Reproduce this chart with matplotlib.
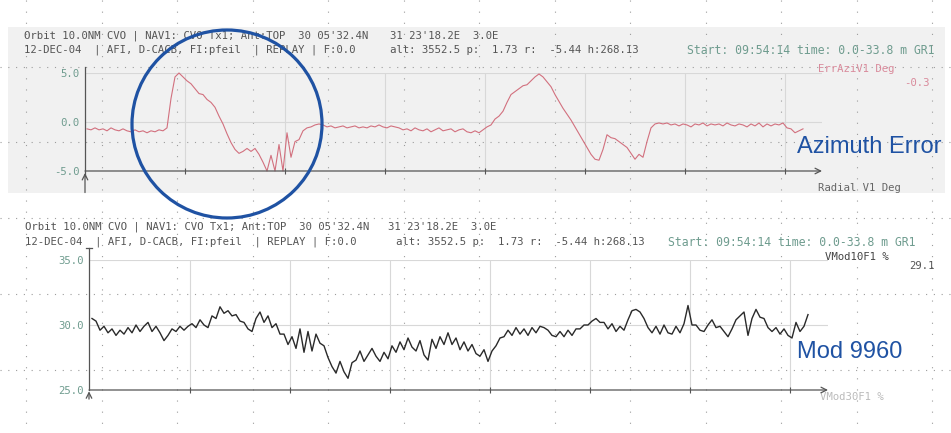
import matplotlib
matplotlib.use("Agg")
import matplotlib.pyplot as plt
import numpy as np
from matplotlib.patches import Ellipse, Rectangle

# ErrAziV1 in degrees, evenly sampled over the run
azi_err = [
    -0.7, -0.8, -0.6, -0.8, -0.7, -0.9, -0.6, -0.8, -0.9, -0.7, -0.9, -1.0,
    -0.8, -1.0, -0.9, -1.1, -0.9, -1.0, -0.8, -0.9, -0.6, 2.4, 4.6, 5.0,
    4.6, 4.2, 3.9, 3.4, 2.9, 2.8, 2.3, 2.0, 1.5, 0.6, -0.2, -1.2,
    -2.1, -2.8, -3.2, -3.0, -2.7, -3.0, -2.7, -3.3, -4.1, -5.0, -3.4, -5.0,
    -2.3, -5.0, -1.1, -3.6, -2.0, -1.8, -0.9, -0.6, -0.5, -0.3, -0.2, -0.3,
    -0.5, -0.4, -0.6, -0.5, -0.4, -0.6, -0.5, -0.4, -0.6, -0.5, -0.6, -0.4,
    -0.5, -0.3, -0.5, -0.6, -0.4, -0.5, -0.6, -0.8, -0.7, -0.9, -0.6, -0.8,
    -0.9, -0.7, -1.0, -0.8, -0.6, -0.9, -0.8, -0.7, -1.0, -0.8, -0.7, -1.0,
    -1.1, -0.9, -1.1, -0.8, -0.5, -0.3, 0.3, 0.6, 1.1, 2.0, 2.8, 3.1,
    3.4, 3.7, 3.8, 4.2, 4.6, 4.9, 4.6, 4.1, 3.6, 2.8, 2.1, 1.4,
    0.8, 0.2, -0.5, -1.2, -1.9, -2.6, -3.3, -3.8, -3.9, -2.8, -1.3, -1.6,
    -1.7, -2.0, -2.3, -2.6, -3.2, -3.8, -3.3, -3.6, -2.0, -0.6, -0.2, -0.1,
    -0.2, -0.1, -0.3, -0.2, -0.4, -0.2, -0.3, -0.5, -0.2, -0.3, -0.1, -0.4,
    -0.2, -0.3, -0.2, -0.4, -0.1, -0.3, -0.4, -0.2, -0.3, -0.5, -0.2, -0.4,
    -0.1, -0.5, -0.2, -0.4, -0.2, -0.3, -0.1, -0.6, -0.7, -1.1, -0.9, -0.7,
]

# VMod10F1 in percent, same run
mod_pct = [
    30.5, 30.3, 29.6, 29.9, 29.4, 29.7, 29.2, 29.6, 29.3, 29.8, 29.4, 30.0,
    29.5, 29.9, 30.2, 29.5, 29.9, 29.4, 28.8, 29.2, 29.7, 29.5, 29.9, 29.6,
    29.9, 30.1, 29.8, 30.4, 30.0, 29.8, 30.7, 30.5, 31.4, 30.9, 31.1, 30.7,
    30.8, 30.3, 30.2, 29.7, 29.5, 30.5, 31.0, 30.2, 30.7, 29.8, 30.1, 29.3,
    29.3, 28.5, 29.1, 28.2, 29.7, 27.9, 29.5, 28.0, 29.3, 28.6, 28.4, 27.5,
    26.8, 26.3, 27.2, 26.4, 25.9, 27.1, 27.3, 28.0, 27.2, 27.7, 28.2, 27.6,
    27.2, 27.9, 27.4, 28.4, 27.9, 28.7, 28.1, 29.0, 28.3, 28.0, 28.8, 27.7,
    27.3, 28.9, 28.2, 29.1, 28.5, 29.4, 28.5, 29.0, 28.1, 28.7, 28.0, 28.5,
    27.8, 27.6, 28.1, 27.2, 28.0, 28.4, 29.0, 29.1, 29.6, 29.2, 29.8, 29.3,
    29.7, 29.2, 29.8, 29.4, 29.9, 29.8, 29.6, 29.2, 29.1, 29.5, 29.1, 29.6,
    29.2, 29.7, 29.7, 30.0, 30.0, 30.3, 30.5, 30.2, 30.2, 29.7, 30.1, 29.5,
    29.9, 29.6, 30.4, 31.1, 31.2, 31.0, 30.5, 29.8, 29.4, 29.9, 29.3, 30.0,
    29.4, 29.3, 29.9, 29.4, 30.1, 31.5, 30.0, 30.0, 29.6, 29.5, 30.0, 30.4,
    29.8, 29.9, 29.5, 29.1, 29.7, 30.4, 30.7, 31.0, 29.2, 30.5, 31.2, 30.6,
    30.5, 29.8, 29.5, 29.8, 29.3, 29.7, 29.2, 29.0, 30.2, 29.5, 29.9, 30.8,
]

RUN_MIN = 33.8
azi_ticks = [-5.0, 0.0, 5.0]
mod_ticks = [25.0, 30.0, 35.0]

line1 = "Orbit 10.0NM CVO | NAV1: CVO Tx1; Ant:TOP  30 05'32.4N"
line1b = "31 23'18.2E  3.0E"
line2 = "12-DEC-04  | AFI, D-CACB, FI:pfeil  | REPLAY | F:0.0"
line2b = "alt: 3552.5 p:  1.73 r:  -5.44 h:268.13"
start = "Start: 09:54:14 time: 0.0-33.8 m GR1"

W, H = 951, 433
MONO = "DejaVu Sans Mono"
INK = "#555555"
TEAL = "#6f9c8f"
PINK = "#d98a9b"
BLUE = "#1f52a3"

fig = plt.figure(figsize=(W / 100, H / 100), dpi=100)
fig.patch.set_facecolor("white")

# page layer in pixel units
bg = fig.add_axes([0, 0, 1, 1])
bg.set_xlim(0, W)
bg.set_ylim(H, 0)
bg.axis("off")
bg.add_patch(Rectangle((8, 27), 937, 166, facecolor="#f1f1f1", edgecolor="none"))

for x in np.arange(26, W, 75.5):
    bg.plot([x, x], [0, H], color="#9c9c9c", lw=0.8, ls=(0, (1, 9)))
for y in [67, 142, 218, 294, 370]:
    bg.plot([0, W], [y, y], color="#9c9c9c", lw=0.8, ls=(0, (1, 6)))


def note(x, y, s, color=INK, ha="left", size=7.7, alpha=1.0):
    bg.text(x, y, s, color=color, ha=ha, va="center", family=MONO,
            fontsize=size, alpha=alpha)


note(24, 36, line1)
note(390, 36, line1b)
note(24, 50, line2)
note(390, 50, line2b)
note(687, 50, start, color=TEAL, size=8.3)
note(818, 69, "ErrAziV1 Deg", color=PINK)
note(930, 83, "-0.3", color=PINK, ha="right")
note(818, 188, "Radial V1 Deg", color="#666666")

note(25, 227, line1)
note(388, 227, line1b)
note(25, 242, line2)
note(396, 242, line2b)
note(668, 242, start, color=TEAL, size=8.3)
note(825, 257, "VMod10F1 %", color="#444444")
note(935, 266, "29.1", color="#555555", ha="right")
note(820, 397, "VMod30F1 %", color="#aaaaaa", alpha=0.8)


def panel(x0, x1, y0, y1, t0_px, t1_px, tick_px, ylim, yticks, values, color, lw):
    ax = fig.add_axes([x0 / W, 1 - y1 / H, (x1 - x0) / W, (y1 - y0) / H])
    ax.patch.set_alpha(0)
    for sp in ax.spines.values():
        sp.set_visible(False)

    mpp = RUN_MIN / (t1_px - t0_px)
    ax.set_xlim((x0 - t0_px) * mpp, (x1 - t0_px) * mpp)
    ax.set_xticks([(p - t0_px) * mpp for p in tick_px])
    ax.set_xticklabels([])
    ax.set_ylim(*ylim)
    ax.set_yticks(yticks)
    ax.set_yticklabels([f"{v:.1f}" for v in yticks])
    ax.tick_params(axis="x", direction="inout", length=5, width=0.8, color=INK)
    ax.tick_params(axis="y", length=0, pad=4, labelsize=7.7, labelcolor=TEAL,
                   labelfontfamily=MONO)
    ax.grid(True, color="#d8d8d8", lw=0.8)

    t = np.linspace(0, RUN_MIN, len(values))
    ax.plot(t, values, color=color, lw=lw, clip_on=False, zorder=3)

    # recorder axes: x arrow and a y line running past both ends
    ax.annotate("", xy=(1, 0), xytext=(0, 0), xycoords="axes fraction",
                arrowprops=dict(arrowstyle="->", color=INK, lw=0.9,
                                shrinkA=0, shrinkB=0))
    return ax


top = panel(85, 822, 73, 171, 87, 803, [185 + 100 * i for i in range(7)],
            (-5, 5), azi_ticks, azi_err, "#d2707e", 0.8)
top.plot([0, 0], [-0.05, 1.06], transform=top.transAxes, color=INK, lw=0.9,
         clip_on=False)
top.annotate("", xy=(0, -0.02), xytext=(0, -0.22), xycoords="axes fraction",
             arrowprops=dict(arrowstyle="->", color=INK, lw=0.9,
                             shrinkA=0, shrinkB=0))

low = panel(89, 828, 260, 390, 92, 808, [190 + 100 * i for i in range(7)],
            (25, 35), mod_ticks, mod_pct, "#2a2a2a", 1.0)
low.plot([0, 0], [0, 1.09], transform=low.transAxes, color=INK, lw=0.9,
         clip_on=False)
low.plot([-0.004, 0.004], [1.09, 1.09], transform=low.transAxes, color=INK,
         lw=0.9, clip_on=False)
low.annotate("", xy=(0, -0.01), xytext=(0, -0.07), xycoords="axes fraction",
             arrowprops=dict(arrowstyle="->", color=INK, lw=0.9,
                             shrinkA=0, shrinkB=0))

# callouts drawn over the traces
fg = fig.add_axes([0, 0, 1, 1])
fg.set_xlim(0, W)
fg.set_ylim(H, 0)
fg.axis("off")
fg.patch.set_alpha(0)
fg.add_patch(Ellipse((227, 124), 190, 188, fill=False, edgecolor=BLUE, lw=2.3))
fg.text(797, 147, "Azimuth Error", color=BLUE, fontsize=17,
        family="Liberation Sans", va="center", ha="left")
fg.text(797, 352, "Mod 9960", color=BLUE, fontsize=17,
        family="Liberation Sans", va="center", ha="left")

fig.savefig("out.png", dpi=100, facecolor="white")
